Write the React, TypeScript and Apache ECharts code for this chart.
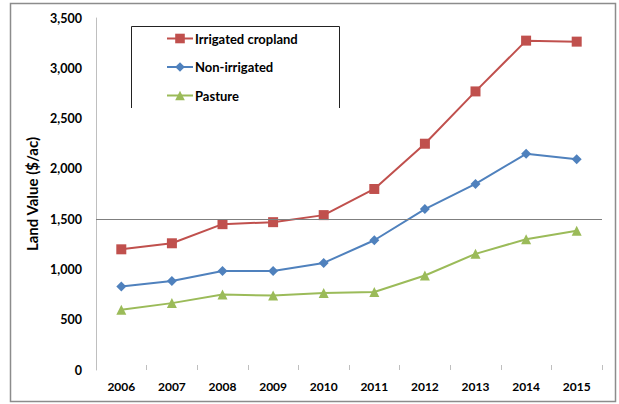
import React, { useEffect, useRef } from "react";
import * as echarts from "echarts";

const years = ["2006", "2007", "2008", "2009", "2010", "2011", "2012", "2013", "2014", "2015"];
const irrigated = [1200, 1260, 1450, 1470, 1540, 1800, 2250, 2770, 3275, 3265];
const nonIrrigated = [830, 885, 985, 985, 1065, 1290, 1600, 1850, 2150, 2095];
const pasture = [600, 665, 750, 740, 765, 775, 940, 1155, 1300, 1385];
const refValue = 1500;

const FONT = "Lato";

export default function App() {
  const ref = useRef<HTMLDivElement>(null);
  useEffect(() => {
    document.body.style.margin = "0";
    const chart = echarts.init(ref.current!, null, { renderer: "svg" });
    const lineSeries = (name: string, data: number[], color: string, symbol: string, size: number) => ({
      name,
      type: "line",
      data,
      symbol,
      symbolSize: size,
      itemStyle: { color },
      lineStyle: { color, width: 2 },
    });
    chart.setOption({
      animation: false,
      backgroundColor: "#fff",
      textStyle: { fontFamily: FONT },
      grid: { left: 96, right: 17, top: 18, bottom: 34 },
      legend: {
        orient: "vertical",
        left: 161,
        top: 27,
        itemWidth: 26,
        itemHeight: 12,
        itemGap: 15.5,
        textStyle: { fontFamily: FONT, fontWeight: "bold", fontSize: 13, color: "#000", padding: [0, 0, 0, -3] },
        data: ["Irrigated cropland", "Non-irrigated", "Pasture"],
      },
      xAxis: {
        type: "category",
        data: years,
        boundaryGap: true,
        axisLine: { show: false },
        axisTick: { show: true, length: 5, inside: true, lineStyle: { color: "#bfbfbf" } },
        axisLabel: { fontFamily: FONT, fontWeight: "bold", fontSize: 12, color: "#000", margin: 10 },
      },
      yAxis: {
        type: "value",
        min: 0,
        max: 3500,
        interval: 500,
        name: "Land Value ($/ac)",
        nameLocation: "middle",
        nameGap: 49,
        nameTextStyle: { fontFamily: FONT, fontWeight: "bold", fontSize: 15, color: "#000" },
        axisLine: { show: true, lineStyle: { color: "#bfbfbf" } },
        axisTick: { show: false },
        splitLine: { show: false },
        axisLabel: {
          fontFamily: FONT,
          fontWeight: "bold",
          fontSize: 12.5,
          color: "#000",
          margin: 14,
          formatter: (v: number) => v.toLocaleString("en-US"),
        },
      },
      series: [
        {
          ...lineSeries("Irrigated cropland", irrigated, "#C0504D", "rect", 10),
          markLine: {
            silent: true,
            symbol: "none",
            label: { show: false },
            lineStyle: { color: "#7f7f7f", type: "solid", width: 1 },
            data: [{ yAxis: refValue }],
          },
        },
        lineSeries("Non-irrigated", nonIrrigated, "#4F81BD", "diamond", 10),
        lineSeries("Pasture", pasture, "#9BBB59", "triangle", 10),
      ],
      graphic: [
        {
          type: "rect",
          shape: { x: 10.5, y: 3.5, width: 605, height: 398 },
          style: { fill: "none", stroke: "#8c8c8c", lineWidth: 1.5 },
          z: -1,
        },
        {
          type: "polyline",
          shape: { points: [[131.5, 108], [131.5, 26.5], [339.5, 26.5], [339.5, 108]] },
          style: { fill: "none", stroke: "#222", lineWidth: 1 },
        },
      ],
    });
    return () => chart.dispose();
  }, []);
  return <div ref={ref} style={{ width: 619, height: 404 }} />;
}
